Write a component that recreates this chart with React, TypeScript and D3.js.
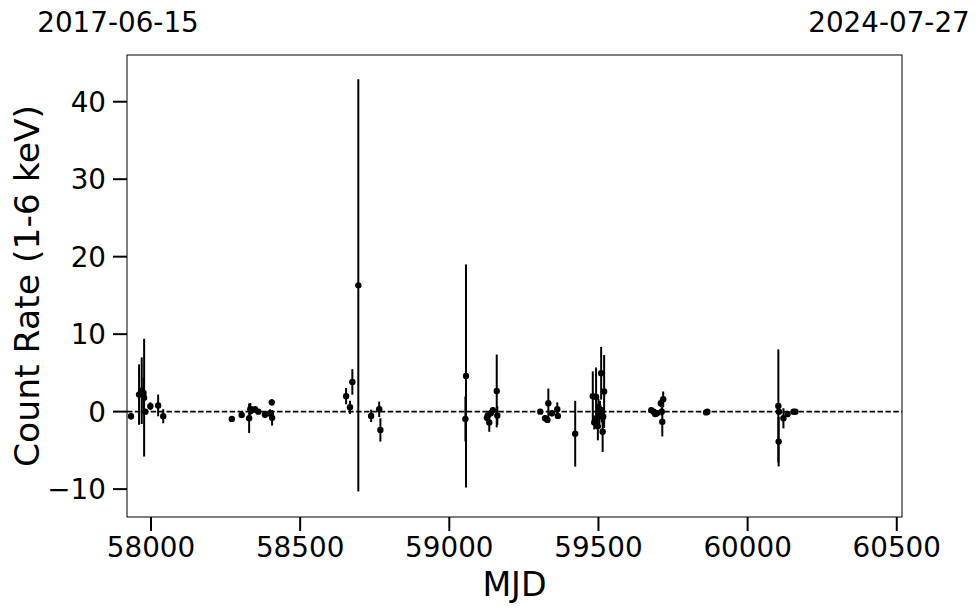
import React from "react";
import * as d3 from "d3";

const mjd = [
  57933, 57960, 57969, 57975, 57977, 57981, 57998, 58024, 58041,
  58271, 58304, 58329, 58333, 58338, 58349, 58360, 58382, 58399, 58402, 58405, 58406,
  58654, 58667, 58675, 58695, 58738, 58765, 58769,
  59054, 59056, 59126, 59129, 59134, 59139, 59146, 59159, 59161,
  59305, 59321, 59329, 59332, 59344, 59362, 59364, 59422,
  59481, 59486, 59492, 59498, 59500, 59503, 59505, 59509, 59511, 59514, 59516, 59519,
  59677, 59685, 59690, 59696, 59709, 59712, 59714, 59717, 59861, 59865,
  60103, 60104, 60105, 60120, 60134, 60154, 60160,
];
const rate = [
  -0.6, 2.2, 2.7, 2.4, 1.8, 0.0, 0.7, 0.8, -0.6,
  -0.94, -0.43, -0.85, 0.3, 0.2, 0.3, 0.0, -0.4, -0.2, -0.3, 1.2, -0.8,
  2.0, 0.56, 3.83, 16.3, -0.55, 0.3, -2.36,
  -0.94, 4.6, -0.8, -0.5, -1.4, -0.2, 0.2, 2.67, -0.5,
  0.0, -0.85, -1.07, 1.08, -0.2, 0.3, -0.55, -2.85,
  2.0, -1.4, 1.9, -1.9, 0.65, -0.2, 0.2, 4.95, -0.4, -2.6, -0.65, 2.6,
  0.2, 0.0, -0.3, -0.2, 1.08, 0.0, -1.3, 1.6, -0.1, 0.0,
  0.73, -3.87, 0.0, -0.86, -0.3, 0.0, 0.0,
];
const err = [
  0.4, 3.9, 4.3, 2.0, 7.6, 0.3, 0.5, 1.4, 0.9,
  0.3, 0.3, 1.9, 0.8, 0.5, 0.3, 0.3, 0.4, 0.5, 0.3, 0.4, 1.0,
  1.05, 0.85, 1.65, 26.6, 0.8, 1.0, 1.5,
  2.9, 14.4, 0.4, 0.5, 1.2, 0.4, 0.4, 4.7, 1.2,
  0.2, 0.4, 0.4, 1.9, 0.4, 0.9, 0.4, 4.25,
  3.2, 0.9, 3.8, 1.8, 1.0, 1.4, 1.2, 3.4, 1.0, 2.6, 1.2, 4.7,
  0.2, 0.3, 0.3, 0.4, 0.5, 0.5, 1.9, 1.0, 0.2, 0.2,
  7.3, 3.2, 0.3, 1.3, 0.3, 0.3, 0.3,
];

const xTicks = [58000, 58500, 59000, 59500, 60000, 60500];
const yTicks = [-10, 0, 10, 20, 30, 40];
const dateLabels = ["2017-06-15", "2024-07-27"];
const xDomain = [57919.6, 60517.5];
const yDomain = [-13.6, 46.03];

const W = 980;
const H = 613;
const L = 127, R = 902, T = 55, B = 517;
const FONT = "DejaVu Sans, sans-serif";

export default function App() {
  const x = d3.scaleLinear().domain(xDomain).range([L, R]);
  const y = d3.scaleLinear().domain(yDomain).range([B, T]);
  const pts = mjd.map((m, i) => ({ m, r: rate[i], e: err[i] }));
  return (
    <svg width={W} height={H} style={{ position: "absolute", left: 0, top: 0, background: "#fff" }}>
      <rect x={0} y={0} width={W} height={H} fill="#fff" />
      <line x1={L} x2={R} y1={y(0)} y2={y(0)} stroke="#000" strokeWidth={1.6} strokeDasharray="5.5,2.4" />
      {pts.map((p, i) => (
        <line key={"e" + i} x1={x(p.m)} x2={x(p.m)} y1={y(p.r - p.e)} y2={y(p.r + p.e)} stroke="#000" strokeWidth={2} />
      ))}
      {pts.map((p, i) => (
        <circle key={"c" + i} cx={x(p.m)} cy={y(p.r)} r={3.2} fill="#000" />
      ))}
      <rect x={L} y={T} width={R - L} height={B - T} fill="none" stroke="#000" strokeWidth={1} />
      {xTicks.map((t) => (
        <g key={"x" + t}>
          <line x1={x(t)} x2={x(t)} y1={B} y2={B + 14} stroke="#000" strokeWidth={2} />
          <text x={x(t)} y={B + 40} textAnchor="middle" fontFamily={FONT} fontSize={27.8} fill="#000">{t}</text>
        </g>
      ))}
      {yTicks.map((t) => (
        <g key={"y" + t}>
          <line x1={L - 14} x2={L} y1={y(t)} y2={y(t)} stroke="#000" strokeWidth={2} />
          <text x={L - 21} y={y(t)} dy="0.36em" textAnchor="end" fontFamily={FONT} fontSize={27.8} fill="#000">
            {t < 0 ? "\u2212" + Math.abs(t) : t}
          </text>
        </g>
      ))}
      <text x={(L + R) / 2} y={596} textAnchor="middle" fontFamily={FONT} fontSize={33.3} fill="#000">MJD</text>
      <text transform={`translate(39,${(T + B) / 2}) rotate(-90)`} textAnchor="middle" fontFamily={FONT} fontSize={34.6} fill="#000">
        Count Rate (1-6 keV)
      </text>
      <text x={118} y={32} textAnchor="middle" fontFamily={FONT} fontSize={27.8} fill="#000">{dateLabels[0]}</text>
      <text x={889} y={32} textAnchor="middle" fontFamily={FONT} fontSize={27.8} fill="#000">{dateLabels[1]}</text>
    </svg>
  );
}
